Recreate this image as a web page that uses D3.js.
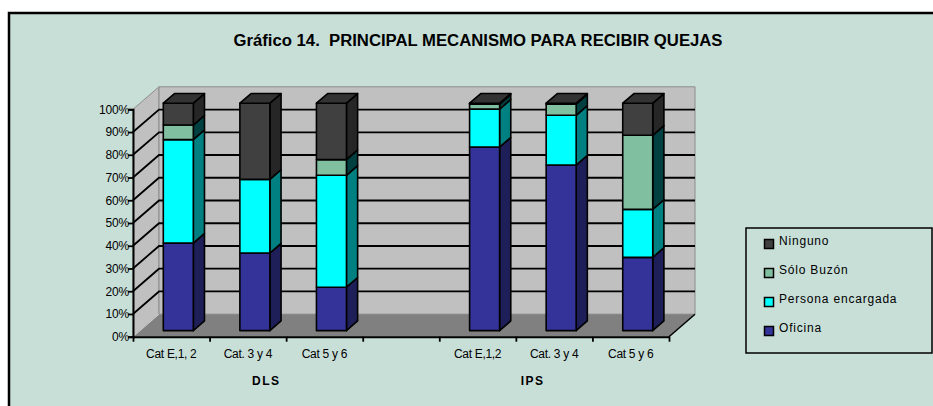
<!DOCTYPE html>
<html>
<head>
<meta charset="utf-8">
<script src="https://cdn.jsdelivr.net/npm/d3@7"></script>
<style>
  body { margin: 0; background: #ffffff; }
  svg { display: block; font-family: "Liberation Sans", Arial, sans-serif; }
</style>
</head>
<body>
<svg id="chart" width="933" height="406"></svg>
<script>
// data (percent of each column, null = empty gap slot)
const categories = ['Cat E,1, 2', 'Cat. 3 y 4', 'Cat 5 y 6', '', 'Cat E,1,2', 'Cat. 3 y 4', 'Cat 5 y 6']
const groups = ['DLS', 'IPS']
const groupPos = [1.74, 5.22] // in slot units along the x axis
const oficina = [38.5, 34.1, 19.1, null, 80.7, 72.8, 32.2]
const persona = [45.5, 32.4, 49.2, null, 16.7, 21.9, 21.1]
const buzon = [6.4, 0, 6.9, null, 2.2, 4.9, 32.6]
const ninguno = [9.6, 33.5, 24.8, null, 0.4, 0.4, 14.1]
const seriesNames = ['Oficina', 'Persona encargada', 'Sólo Buzón', 'Ninguno']
const yTicks = d3.range(0, 101, 10)

const front = { Oficina: '#333399', 'Persona encargada': '#00ffff', 'Sólo Buzón': '#80c0a0', Ninguno: '#404040' }
const side = { Oficina: '#1e1e58', 'Persona encargada': '#008080', 'Sólo Buzón': '#004040', Ninguno: '#262626' }
const top_ = { Oficina: '#24246e', 'Persona encargada': '#00c0c0', 'Sólo Buzón': '#5a9080', Ninguno: '#333333' }

const svg = d3.select('#chart')
const bg = '#c8dfd8'

// outer frame
svg.append('rect')
  .attr('x', 9).attr('y', 13).attr('width', 940).attr('height', 410)
  .attr('fill', bg).attr('stroke', '#000').attr('stroke-width', 2.5)

svg.append('text')
  .text('Gráfico 14.  PRINCIPAL MECANISMO PARA RECIBIR QUEJAS')
  .attr('x', 478).attr('y', 46)
  .attr('text-anchor', 'middle')
  .attr('font-weight', 'bold')
  .attr('font-size', 16)
  .attr('font-family', '"Liberation Sans Narrow", "Liberation Sans", Arial, sans-serif')
  .style('white-space', 'pre')
  .attr('textLength', 489)
  .attr('lengthAdjust', 'spacingAndGlyphs')

// scales (front plane), depth handled by an offset
const x = d3.scaleBand().domain(d3.range(categories.length)).range([133, 669])
const xLin = d3.scaleLinear().domain([0, categories.length]).range([133, 669])
const y = d3.scaleLinear().domain([0, 100]).range([336.7, 109.3])
const depth = { dx: 26, dy: -22.5 }
const off = (z) => [depth.dx * z, depth.dy * z]
const pt = (px, py, z) => [px + off(z)[0], py + off(z)[1]]
const poly = (pts) => 'M' + pts.map(p => p.join(',')).join('L') + 'Z'

const x0 = xLin(0), x1 = xLin(categories.length)
const yb = y(0), yt = y(100)

// walls and floor
svg.append('path')
  .attr('d', poly([pt(x0, yb, 0), pt(x0, yt, 0), pt(x0, yt, 1), pt(x0, yb, 1)]))
  .attr('fill', '#c0c0c0').attr('stroke', '#8c8c8c').attr('stroke-width', 1)
svg.append('path')
  .attr('d', poly([pt(x0, yb, 1), pt(x0, yt, 1), pt(x1, yt, 1), pt(x1, yb, 1)]))
  .attr('fill', '#c0c0c0').attr('stroke', '#8c8c8c').attr('stroke-width', 1)
svg.append('path')
  .attr('d', poly([pt(x0, yb, 0), pt(x0, yb, 1), pt(x1, yb, 1), pt(x1, yb, 0)]))
  .attr('fill', '#808080')
svg.append('line')
  .attr('x1', pt(x0, yb, 0)[0]).attr('y1', pt(x0, yb, 0)[1])
  .attr('x2', pt(x0, yb, 1)[0]).attr('y2', pt(x0, yb, 1)[1])
  .attr('stroke', '#d0d0d0').attr('stroke-width', 1)
svg.append('line')
  .attr('x1', pt(x1, yb, 0)[0]).attr('y1', pt(x1, yb, 0)[1])
  .attr('x2', pt(x1, yb, 1)[0]).attr('y2', pt(x1, yb, 1)[1])
  .attr('stroke', '#000').attr('stroke-width', 1.5)

// gridlines on left wall and back wall
const grid = svg.append('g').attr('stroke', '#000').attr('stroke-width', 1.8).attr('fill', 'none')
grid.selectAll('path')
  .data(yTicks.filter(t => t > 0 && t < 100))
  .join('path')
  .attr('d', t => 'M' + pt(x0, y(t), 0).join(',') + 'L' + pt(x0, y(t), 1).join(',') + 'L' + pt(x1, y(t), 1).join(','))

// axes
const yAxis = svg.append('g')
  .attr('transform', `translate(${x0},0)`)
  .call(d3.axisLeft(y).tickValues(yTicks).tickFormat(d => d + '%').tickSize(5).tickPadding(-1))
yAxis.select('.domain').attr('stroke-width', 2)
yAxis.selectAll('line').attr('stroke-width', 1.8)
yAxis.selectAll('text')
  .attr('font-size', 12).attr('fill', '#000')
  .attr('font-family', '"Liberation Sans", Arial, sans-serif')
  .attr('letter-spacing', -0.2)

const xAxis = svg.append('g')
  .attr('transform', `translate(0,${yb})`)
  .call(d3.axisBottom(xLin).tickValues(d3.range(0, categories.length + 1)).tickFormat('').tickSize(5).tickSizeOuter(0))
xAxis.select('.domain').attr('stroke-width', 2)
xAxis.selectAll('line').attr('stroke-width', 1.8)

// stacked 3D columns
const rows = categories.map((c, i) => ({
  i,
  Oficina: oficina[i] ?? 0,
  'Persona encargada': persona[i] ?? 0,
  'Sólo Buzón': buzon[i] ?? 0,
  Ninguno: ninguno[i] ?? 0,
  empty: oficina[i] === null
}))
const stacked = d3.stack().keys(seriesNames)(rows)

const barW = 30
const zA = 0.27, zB = 0.7
const bars = svg.append('g').attr('stroke', '#000').attr('stroke-width', 1.6).attr('stroke-linejoin', 'round')

rows.filter(r => !r.empty).forEach(r => {
  const bl = x(r.i) + (x.bandwidth() - barW) / 2
  const br = bl + barW
  const g = bars.append('g')
  let lastKey = null
  let lastTop = 0
  stacked.forEach(s => {
    const [v0, v1] = s[r.i]
    if (v1 - v0 <= 0) return
    const key = s.key
    g.append('path')
      .attr('d', poly([pt(br, y(v0), zA), pt(br, y(v0), zB), pt(br, y(v1), zB), pt(br, y(v1), zA)]))
      .attr('fill', side[key])
    g.append('path')
      .attr('d', poly([pt(bl, y(v0), zA), pt(br, y(v0), zA), pt(br, y(v1), zA), pt(bl, y(v1), zA)]))
      .attr('fill', front[key])
    lastKey = key
    lastTop = v1
  })
  g.append('path')
    .attr('d', poly([pt(bl, y(lastTop), zA), pt(br, y(lastTop), zA), pt(br, y(lastTop), zB), pt(bl, y(lastTop), zB)]))
    .attr('fill', top_[lastKey])
})

// category and group labels
svg.append('g').selectAll('text')
  .data(categories)
  .join('text')
  .text(d => d)
  .attr('x', (d, i) => x(i) + x.bandwidth() / 2)
  .attr('y', 357.5)
  .attr('text-anchor', 'middle')
  .attr('font-size', 12)
  .attr('letter-spacing', -0.3)

svg.append('g').selectAll('text')
  .data(groups)
  .join('text')
  .text(d => d)
  .attr('x', (d, i) => xLin(groupPos[i]))
  .attr('y', 384.5)
  .attr('text-anchor', 'middle')
  .attr('font-size', 12)
  .attr('font-weight', 'bold')
  .attr('letter-spacing', 1.5)

// legend
const legendOrder = ['Ninguno', 'Sólo Buzón', 'Persona encargada', 'Oficina']
const legend = svg.append('g').attr('transform', 'translate(746,228)')
legend.append('rect')
  .attr('width', 186).attr('height', 125)
  .attr('fill', 'none').attr('stroke', '#000').attr('stroke-width', 1.5)
const items = legend.selectAll('g.item')
  .data(legendOrder)
  .join('g')
  .attr('class', 'item')
  .attr('transform', (d, i) => `translate(0,${17 + i * 29})`)
items.append('rect')
  .attr('x', 18.5).attr('y', -5.5).attr('width', 9).attr('height', 9)
  .attr('fill', d => front[d]).attr('stroke', '#000').attr('stroke-width', 1.5)
items.append('text')
  .text(d => d)
  .attr('x', 33).attr('y', 0)
  .attr('font-size', 12)
  .attr('letter-spacing', 0.8)
</script>
</body>
</html>
